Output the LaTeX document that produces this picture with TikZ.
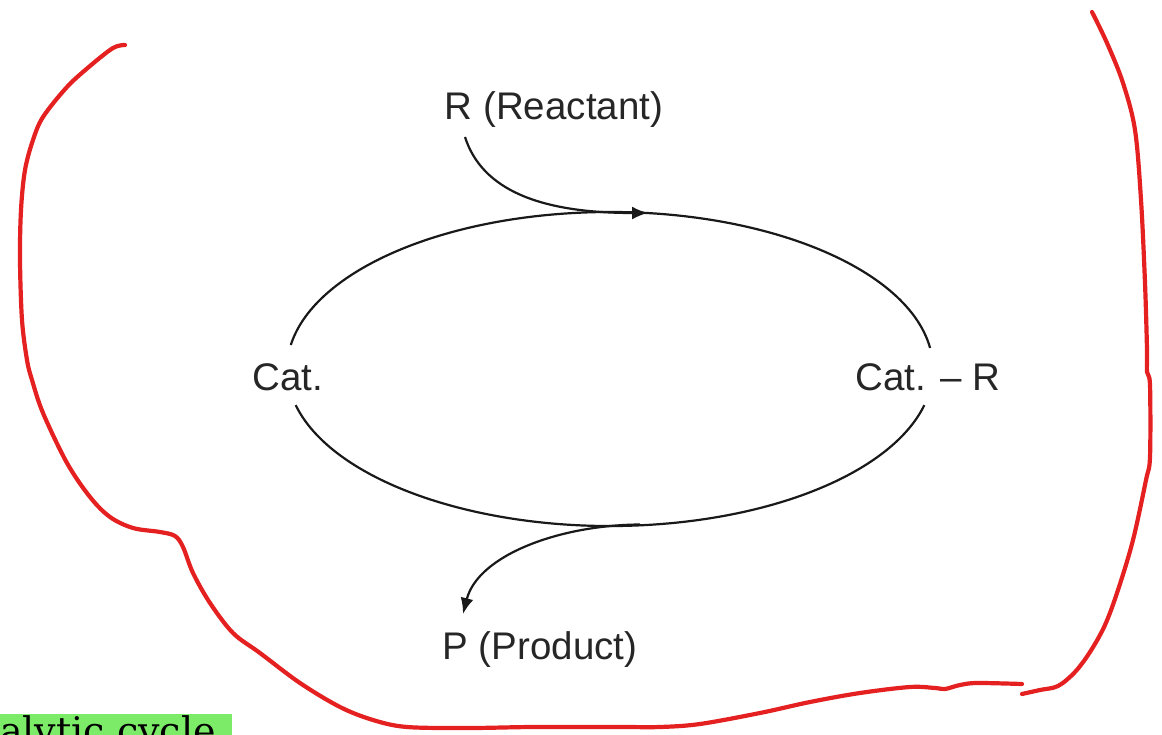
\documentclass[tikz,border=0pt]{standalone}
\usepackage{fontspec}
\setmainfont{Liberation Sans}
\newfontfamily\labelserif{DejaVu Serif}
\usetikzlibrary{arrows.meta}
\definecolor{penred}{RGB}{228,32,32}
\definecolor{marker}{RGB}{124,236,104}
\tikzset{
  chem/.style={font=\fontsize{38.5}{40}\selectfont, inner sep=0pt, text=black!85},
  cycleline/.style={line width=2.2pt, black!90},
  flow/.style={cycleline, -{Latex[length=16pt,width=13pt]}},
  pen/.style={penred, line width=4.2pt, line cap=round, line join=round},
  tag/.style={fill=marker, inner xsep=16pt, inner ysep=1.5pt,
    font=\labelserif\fontsize{38}{40}\selectfont, anchor=base east}
}
\begin{document}
\begin{tikzpicture}[x=1pt,y=1pt]
\useasboundingbox (0,0) rectangle (1162,-735);
\clip (0,0) rectangle (1162,-735);

% species labels
\node[chem] (R)    at (554,-110) {R (Reactant)};
\node[chem] (cat)  at (288,-377) {Cat.};
\node[chem] (catR) at (928,-377) {Cat. -- R};
\node[chem] (P)    at (540,-650) {P (Product)};

% the catalytic cycle: two elliptic arcs, open at the catalyst labels
\draw[cycleline] (610,-369) ++(7.7:323 and 157) arc[start angle=7.7, end angle=171.2, x radius=323, y radius=157];
\draw[cycleline] (610,-369) ++(193.3:323 and 157) arc[start angle=193.3, end angle=346.7, x radius=323, y radius=157];

% reactant enters, product leaves
\coordinate (rin)  at (465,-137);
\coordinate (join) at (648,-213);
\coordinate (split) at (640,-524.5);
\coordinate (pout) at (463,-614);
\draw[flow] (rin) .. controls (482,-190) and (540,-213) .. (join);
\draw[flow] (split) .. controls (560,-525) and (478,-555) .. (pout);

% hand-drawn outline
\draw[pen] plot[smooth, tension=0.55] coordinates {
  (125,-45) (113,-48) (90,-66) (67,-87) (43,-117) (33,-140) (25,-170)
  (21,-210) (20,-260) (22,-320) (27,-360) (32,-380) (43,-413) (67,-463)
  (90,-497) (110,-517) (133,-528) (160,-532) (175,-536) (183,-547)
  (193,-573) (210,-603) (233,-633) (260,-653) (300,-683) (340,-707)
  (373,-720) (407,-727) (470,-728) (533,-727) (620,-727) (660,-727)
  (700,-724) (760,-713) (810,-702) (860,-693) (910,-687) (935,-688)
  (945,-689) (960,-685) (977,-683) (1022,-684)};
\draw[pen] plot[smooth, tension=0.55] coordinates {
  (1092,-12) (1107,-43) (1123,-83) (1135,-130) (1141,-200) (1145,-283)
  (1147,-350) (1147,-372) (1150,-385) (1150,-457) (1146,-480)
  (1133,-540) (1118,-590) (1105,-625) (1090,-652) (1075,-672)
  (1058,-686) (1040,-690) (1022,-694)};

% highlighted caption
\node[tag] (caption) at (232,-744) {Catalytic cycle};
\end{tikzpicture}
\end{document}
